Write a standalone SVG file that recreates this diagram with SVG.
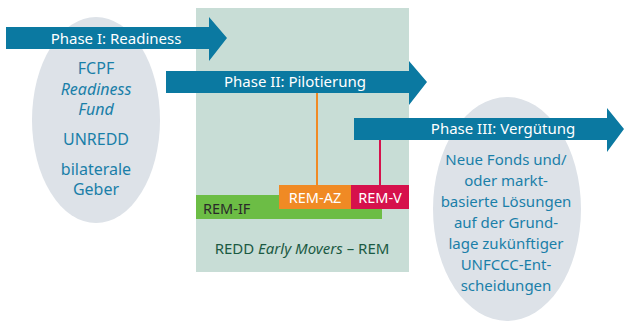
<svg xmlns="http://www.w3.org/2000/svg" width="626" height="323" viewBox="0 0 626 323">
<style>
.arrow{fill:#0b79a1}
.ell{fill:#dde2e8}
.ph{font-family:"Noto Sans","Open Sans",sans-serif;font-size:15px;fill:#fff;text-anchor:middle}
.et{font-family:"Noto Sans","Open Sans",sans-serif;font-size:15px;fill:#1a7fa8;text-anchor:middle}
.el{font-size:16px}
.it{font-style:italic}
.lbl{font-family:"Noto Sans","Open Sans",sans-serif;font-size:14.5px;fill:#fff;text-anchor:middle}
</style>
<rect width="626" height="323" fill="#fff"/>
<g id="rem-box">
<rect x="196" y="8" width="213" height="264" fill="#c8ddd6"/>
<text x="302" y="254" style="font-family:'Noto Sans','Open Sans',sans-serif;font-size:15px;fill:#1b5a43" text-anchor="middle">REDD <tspan class="it">Early Movers</tspan> – REM</text>
</g>
<g id="ellipse-left">
<ellipse cx="96" cy="120" rx="64" ry="103" class="ell"/>
<text x="96" y="74" class="et el">FCPF</text>
<text x="96" y="95" class="et el it">Readiness</text>
<text x="96" y="115" class="et el it">Fund</text>
<text x="96" y="145" class="et el">UNREDD</text>
<text x="96" y="175" class="et el">bilaterale</text>
<text x="96" y="195" class="et el">Geber</text>
</g>
<g id="ellipse-right">
<ellipse cx="507" cy="209" rx="74" ry="112" class="ell"/>
<text x="506" y="165" class="et">Neue Fonds und/</text>
<text x="506" y="186" class="et">oder markt-</text>
<text x="506" y="207" class="et">basierte Lösungen</text>
<text x="506" y="228" class="et">auf der Grund-</text>
<text x="506" y="249" class="et">lage zukünftiger</text>
<text x="506" y="270" class="et">UNFCCC-Ent-</text>
<text x="506" y="291" class="et">scheidungen</text>
</g>
<g id="connectors">
<line x1="317" y1="93" x2="317" y2="185" stroke="#f08a24" stroke-width="2"/>
<line x1="380" y1="140" x2="380" y2="185" stroke="#d6114c" stroke-width="2"/>
</g>
<g id="rem-if">
<rect x="196" y="195" width="186" height="24" fill="#6cbd45"/>
<text x="203" y="214" style="font-family:'Noto Sans','Open Sans',sans-serif;font-size:14.5px;fill:#2a2a2a">REM-IF</text>
</g>
<g id="rem-az">
<rect x="279" y="185" width="72" height="24" fill="#f08a24"/>
<text x="315" y="203" class="lbl">REM-AZ</text>
</g>
<g id="rem-v">
<rect x="351" y="185" width="58" height="24" fill="#d6114c"/>
<text x="380" y="203" class="lbl">REM-V</text>
</g>
<g id="phase1">
<polygon class="arrow" points="6,27 209,27 209,17 227,38 209,61 209,49 6,49"/>
<text x="116" y="44" class="ph">Phase I: Readiness</text>
</g>
<g id="phase2">
<polygon class="arrow" points="166,71 409,71 409,61 427,82 409,105 409,93 166,93"/>
<text x="295" y="87" class="ph">Phase II: Pilotierung</text>
</g>
<g id="phase3">
<polygon class="arrow" points="354,118 607,118 607,108 624,129 607,152 607,140 354,140"/>
<text x="503" y="134" class="ph">Phase III: Vergütung</text>
</g>
</svg>
